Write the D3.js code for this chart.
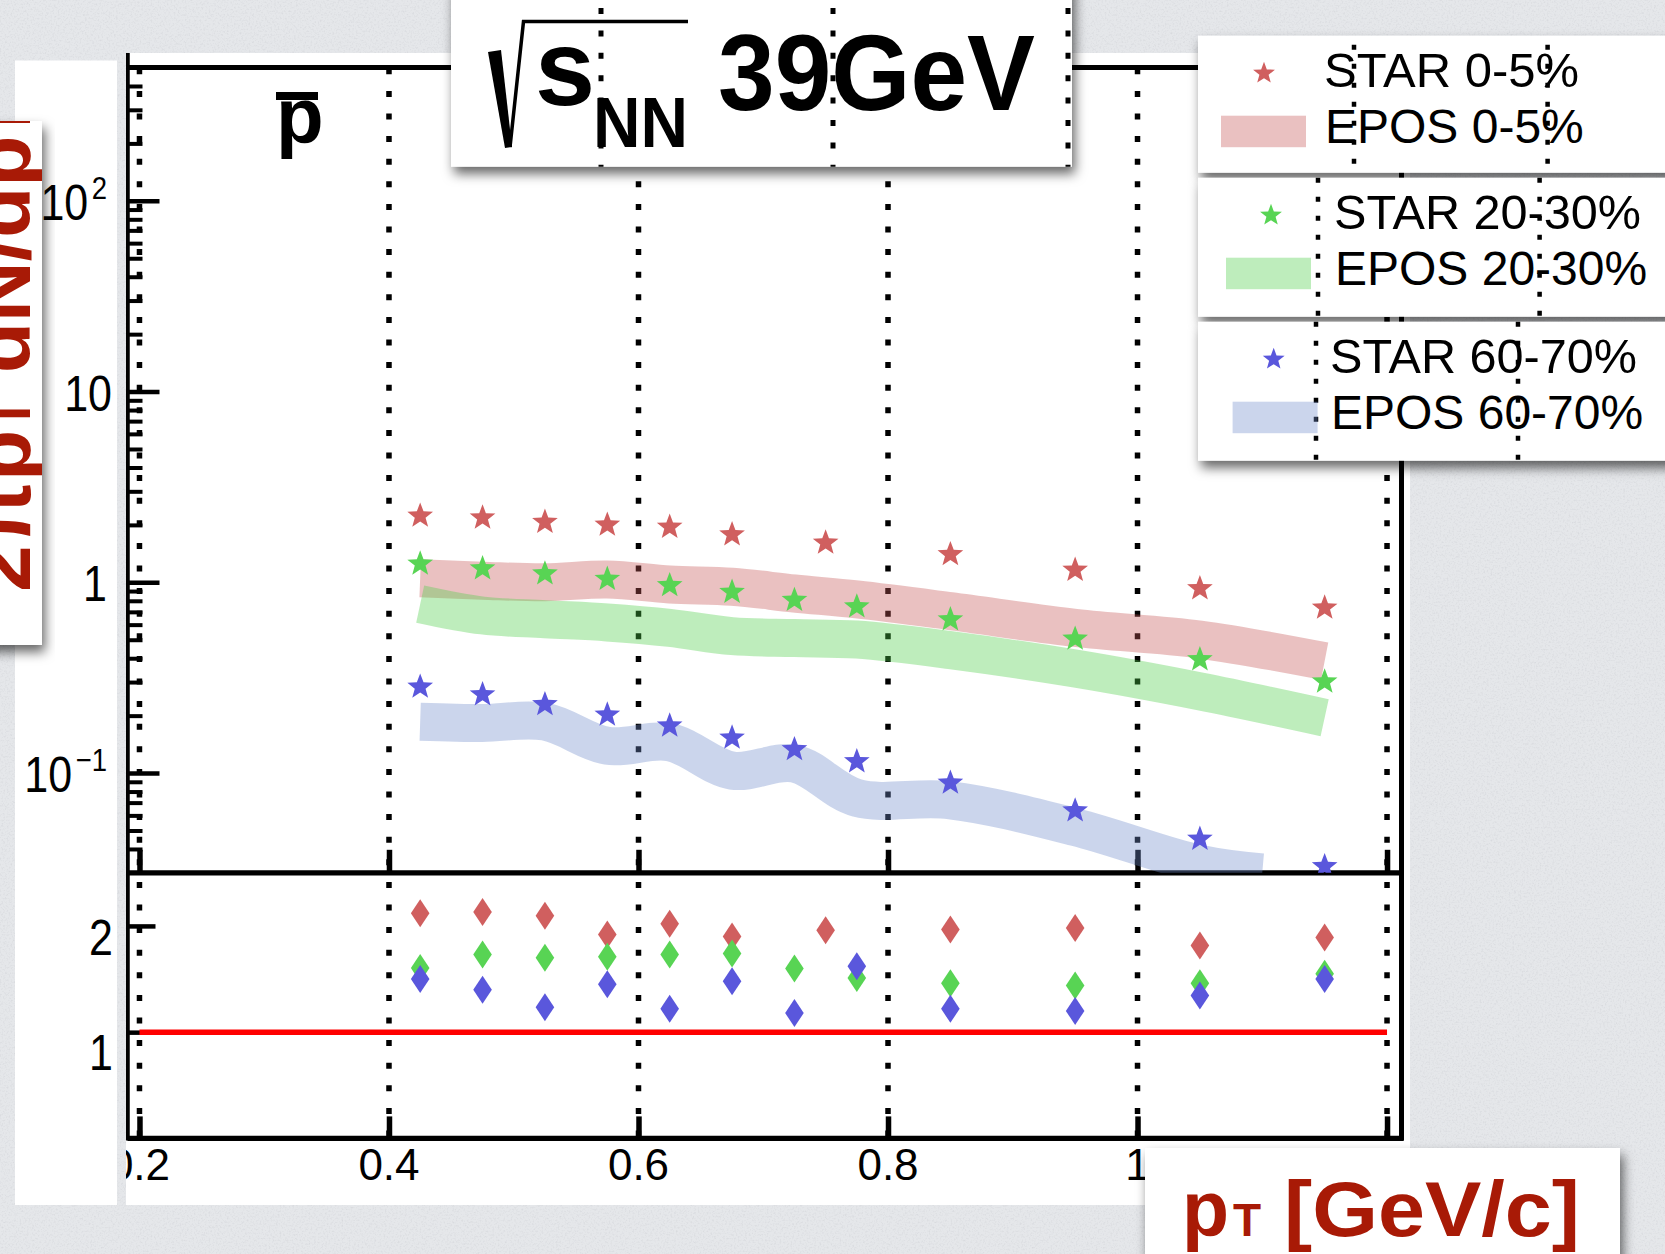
<!DOCTYPE html>
<html>
<head>
<meta charset="utf-8">
<script src="https://cdn.jsdelivr.net/npm/d3@7"></script>
<style>
  html, body { margin: 0; padding: 0; background: #e5e7ea; overflow: hidden; }
  svg { display: block; }
  text { font-family: "Liberation Sans", Arial, Helvetica, sans-serif; }
</style>
</head>
<body>
<svg id="chart" width="1665" height="1254"></svg>
<script>
// ---------------- data ----------------
// pT bin centres (GeV/c)
const ptBins      = [0.425, 0.475, 0.525, 0.575, 0.625, 0.675, 0.725, 0.775, 0.85, 0.95, 1.05, 1.15];
const ptBinsCent  = [0.425, 0.475, 0.525, 0.575, 0.625, 0.675, 0.75, 0.85, 0.95, 1.05, 1.15];
const ptEposPeriph = [0.425, 0.475, 0.525, 0.575, 0.625, 0.675, 0.725, 0.775, 0.85, 0.95, 1.05, 1.10];

// STAR anti-proton spectra, sqrt(sNN) = 39 GeV
const starCent   = [2.23, 2.18, 2.07, 2.00, 1.95, 1.78, 1.61, 1.40, 1.16, 0.928, 0.735];
const starMid    = [1.25, 1.18, 1.11, 1.04, 0.963, 0.889, 0.806, 0.745, 0.638, 0.505, 0.394, 0.301];
const starPeriph = [0.283, 0.258, 0.229, 0.202, 0.177, 0.153, 0.133, 0.115, 0.0888, 0.0635, 0.0451, 0.0324];

// EPOS model curves
const eposCent   = [1.05, 1.02, 1.00, 1.035, 0.975, 0.948, 0.874, 0.813, 0.706, 0.577, 0.501, 0.386];
const eposMid    = [0.769, 0.670, 0.641, 0.616, 0.577, 0.522, 0.510, 0.501, 0.441, 0.353, 0.268, 0.195];
const eposPeriph = [0.186, 0.183, 0.186, 0.139, 0.145, 0.103, 0.112, 0.0741, 0.0720, 0.0521, 0.0334, 0.0301];

// data / model ratios
const ratioCent   = [2.12, 2.13, 2.095, 1.92, 2.02, 1.90, 1.96, 1.966, 1.98, 1.815, 1.89];
const ratioMid    = [1.605, 1.73, 1.70, 1.71, 1.73, 1.74, 1.60, 1.51, 1.46, 1.44, 1.46, 1.55];
const ratioPeriph = [1.50, 1.40, 1.235, 1.45, 1.22, 1.48, 1.18, 1.62, 1.22, 1.20, 1.345, 1.50];

// axis ticks and labels
const xTickVals  = [0.2, 0.4, 0.6, 0.8, 1.0, 1.2];
const xTickText  = ["0.2", "0.4", "0.6", "0.8", "1", "1.2"];
const yUpMajor   = [100, 10, 1, 0.1];
const yUpBase    = ["10", "10", "1", "10"];
const yUpSup     = ["2", "", "", "\u22121"];
const yLowMajor  = [2, 1];
const yLowText   = ["2", "1"];
const legendStar = ["STAR 0-5%", "STAR 20-30%", "STAR 60-70%"];
const legendEpos = ["EPOS 0-5%", "EPOS 20-30%", "EPOS 60-70%"];

// ---------------- styling ----------------
const markerColor = ["#d05f5f", "#58d454", "#5a57dc"];
const bandColor   = ["rgba(198,86,86,0.37)", "rgba(78,206,72,0.37)", "rgba(113,142,204,0.37)"];
const titleRed    = "#a81a06";

const svg = d3.select("#chart");
const defs = svg.append("defs");

// paper grain for the backdrop
const grain = defs.append("filter").attr("id", "grain")
  .attr("x", 0).attr("y", 0).attr("width", "100%").attr("height", "100%");
grain.append("feTurbulence").attr("type", "fractalNoise")
  .attr("baseFrequency", 0.55).attr("numOctaves", 3).attr("seed", 11);
grain.append("feColorMatrix").attr("type", "matrix")
  .attr("values", "0 0 0 0 0.45  0 0 0 0 0.46  0 0 0 0 0.5  0 0 0 1.6 -0.75");

const shadow = defs.append("filter").attr("id", "shadow")
  .attr("x", "-20%").attr("y", "-20%").attr("width", "140%").attr("height", "150%");
shadow.append("feDropShadow").attr("dx", 3).attr("dy", 7).attr("stdDeviation", 6)
  .attr("flood-color", "#000").attr("flood-opacity", 0.6);

// ---------------- scales ----------------
const xs   = d3.scaleLinear().domain([0.19, 1.212]).range([127, 1402]);
const yUp  = d3.scaleLog().domain([0.03, 500]).range([872.8, 67.5]);
const yLow = d3.scaleLinear().domain([0, 2.5]).range([1138.4, 872.8]);
// the tick-label strip sits slightly stretched against the lower pad
const yLowLabel = d3.scaleLinear().domain([1, 2]).range([1069.5, 954.5]);

const padL = 127.5, padR = 1401.5, padTop = 67.5, padMid = 872.8, padBot = 1138.4;

// ---------------- backdrop & panels ----------------
svg.append("rect").attr("width", 1665).attr("height", 1254).attr("fill", "#e5e7ea");
svg.append("rect").attr("width", 1665).attr("height", 1254).attr("filter", "url(#grain)").attr("opacity", 0.35);

svg.append("rect").attr("x", 15).attr("y", 60.5).attr("width", 102).attr("height", 1144.5).attr("fill", "#fff");
svg.append("rect").attr("x", 126).attr("y", 53).attr("width", 1284).attr("height", 1152).attr("fill", "#fff");

defs.append("clipPath").attr("id", "panelClip").append("rect")
  .attr("x", 126).attr("y", 53).attr("width", 1284).attr("height", 1152);
defs.append("clipPath").attr("id", "upClip").append("rect")
  .attr("x", padL).attr("y", padTop).attr("width", padR - padL).attr("height", padMid - padTop);
defs.append("clipPath").attr("id", "lowClip").append("rect")
  .attr("x", padL).attr("y", padMid).attr("width", padR - padL).attr("height", padBot - padMid);

const plot = svg.append("g").attr("clip-path", "url(#panelClip)");

// dotted verticals at the major pT values
plot.append("g").selectAll("line").data(xTickVals).join("line")
  .attr("x1", d => xs(d)).attr("x2", d => xs(d))
  .attr("y1", 53).attr("y2", padBot)
  .attr("stroke", "#000").attr("stroke-width", 5.5)
  .attr("stroke-dasharray", "6,16.6").attr("stroke-dashoffset", 7.3);

// frame
const frame = plot.append("g").attr("stroke", "#000").attr("fill", "none");
frame.append("line").attr("x1", padL).attr("x2", padL).attr("y1", 53).attr("y2", padBot + 2).attr("stroke-width", 4.5);
frame.append("line").attr("x1", padR).attr("x2", padR).attr("y1", padTop).attr("y2", padBot + 2).attr("stroke-width", 5);
frame.append("line").attr("x1", padL).attr("x2", padR + 2).attr("y1", padTop).attr("y2", padTop).attr("stroke-width", 5);
frame.append("line").attr("x1", padL).attr("x2", padR + 2).attr("y1", padMid).attr("y2", padMid).attr("stroke-width", 5.3);
frame.append("line").attr("x1", padL).attr("x2", padR + 2).attr("y1", padBot).attr("y2", padBot).attr("stroke-width", 5.3);

// axis ticks (drawn with d3 axes, inward)
function styleAxis(g, w) {
  g.select(".domain").remove();
  g.selectAll(".tick line").attr("stroke", "#000").attr("stroke-width", w);
  g.selectAll(".tick text").remove();
}
plot.append("g").attr("transform", `translate(0,${padMid})`)
  .call(d3.axisTop(xs).tickValues(xTickVals).tickSize(23).tickFormat(""))
  .call(g => styleAxis(g, 5.5));
plot.append("g").attr("transform", `translate(0,${padBot})`)
  .call(d3.axisTop(xs).tickValues(xTickVals).tickSize(22).tickFormat(""))
  .call(g => styleAxis(g, 5.5));

const minorUp = [];
for (let e = -2; e <= 2; e++) for (let m = 2; m <= 9; m++) {
  const v = m * Math.pow(10, e);
  if (v > 0.03 && v < 500) minorUp.push(v);
}
plot.append("g").attr("transform", `translate(${padL},0)`)
  .call(d3.axisRight(yUp).tickValues(yUpMajor).tickSize(32).tickFormat(""))
  .call(g => styleAxis(g, 4.5));
plot.append("g").attr("transform", `translate(${padL},0)`)
  .call(d3.axisRight(yUp).tickValues(minorUp).tickSize(15).tickFormat(""))
  .call(g => styleAxis(g, 4));
plot.append("g").attr("transform", `translate(${padL},0)`)
  .call(d3.axisRight(yLow).tickValues(yLowMajor).tickSize(28).tickFormat(""))
  .call(g => styleAxis(g, 4.5));

// x tick labels
plot.append("g").selectAll("text").data(xTickVals).join("text")
  .attr("x", d => xs(d)).attr("y", 1180)
  .attr("text-anchor", "middle").attr("font-size", 44).attr("fill", "#000")
  .text((d, i) => xTickText[i]);

// species label: anti-proton
plot.append("text").attr("x", 276).attr("y", 143)
  .attr("font-size", 78).attr("font-weight", "bold").text("p");
plot.append("rect").attr("x", 276).attr("y", 92).attr("width", 42).attr("height", 8).attr("fill", "#000");

// ---------------- upper pad: spectra ----------------
const upper = plot.append("g").attr("clip-path", "url(#upClip)");
const band = d3.line().x(d => xs(d[0])).y(d => yUp(d[1])).curve(d3.curveCatmullRom.alpha(0.5));
const bands = [
  d3.zip(ptBins, eposCent),
  d3.zip(ptBins, eposMid),
  d3.zip(ptEposPeriph, eposPeriph)
];
upper.append("g").selectAll("path").data(bands).join("path")
  .attr("d", band).attr("fill", "none")
  .attr("stroke", (d, i) => bandColor[i]).attr("stroke-width", 38)
  .attr("stroke-linecap", "butt").attr("stroke-linejoin", "round");

function starPath(R, k) {
  const p = [];
  for (let i = 0; i < 10; i++) {
    const a = -Math.PI / 2 + i * Math.PI / 5;
    const r = i % 2 ? R * k : R;
    p.push([r * Math.cos(a), r * Math.sin(a)]);
  }
  return "M" + p.map(q => q[0].toFixed(2) + "," + q[1].toFixed(2)).join("L") + "Z";
}
const star = starPath(13.5, 0.42);
const spectra = [
  d3.zip(ptBinsCent, starCent),
  d3.zip(ptBins, starMid),
  d3.zip(ptBins, starPeriph)
];
spectra.forEach((s, i) => {
  upper.append("g").selectAll("path").data(s).join("path")
    .attr("d", star).attr("fill", markerColor[i])
    .attr("transform", d => `translate(${xs(d[0])},${yUp(d[1])})`);
});

// ---------------- lower pad: ratios ----------------
const lower = plot.append("g").attr("clip-path", "url(#lowClip)");
lower.append("line")
  .attr("x1", xs(0.2)).attr("x2", xs(1.2))
  .attr("y1", yLow(1)).attr("y2", yLow(1))
  .attr("stroke", "#ff0000").attr("stroke-width", 5.5);
const diamond = "M0,-14L9.3,0L0,14L-9.3,0Z";
const ratios = [
  d3.zip(ptBinsCent, ratioCent),
  d3.zip(ptBins, ratioMid),
  d3.zip(ptBins, ratioPeriph)
];
ratios.forEach((s, i) => {
  lower.append("g").selectAll("path").data(s).join("path")
    .attr("d", diamond).attr("fill", markerColor[i])
    .attr("transform", d => `translate(${xs(d[0])},${yLow(d[1])})`);
});

// ---------------- y tick labels on the left strip ----------------
const yl = svg.append("g").attr("fill", "#000");
yUpMajor.forEach((v, i) => {
  const right = yUpSup[i] || yUpBase[i] === "1" ? 107 : 112;
  const g = yl.append("g").attr("transform", `translate(${right},${yUp(v) + 19}) scale(0.86,1)`);
  const t = g.append("text").attr("text-anchor", "end").attr("font-size", 50);
  t.append("tspan").text(yUpBase[i]);
  if (yUpSup[i]) t.append("tspan").attr("font-size", 32).attr("dy", -21).attr("dx", 4).text(yUpSup[i]);
});
yLowMajor.forEach((v, i) => {
  yl.append("g").attr("transform", `translate(113,${yLowLabel(v)}) scale(0.86,1)`)
    .append("text").attr("text-anchor", "end").attr("font-size", 50).text(yLowText[i]);
});

// ---------------- y-axis title card ----------------
defs.append("clipPath").attr("id", "ycardClip").append("rect")
  .attr("x", 0).attr("y", 121).attr("width", 42).attr("height", 524);
svg.append("rect").attr("x", -20).attr("y", 121).attr("width", 62).attr("height", 524)
  .attr("fill", "#fff").attr("filter", "url(#shadow)");
const ytitle = svg.append("g").attr("clip-path", "url(#ycardClip)")
  .append("text").attr("transform", "translate(30,592) rotate(-90)")
  .attr("font-size", 84).attr("font-weight", "bold").attr("fill", titleRed);
ytitle.append("tspan").text("2\u03c0p");
ytitle.append("tspan").attr("font-size", 54).text("T");
ytitle.append("tspan").text(" dN/dp");
ytitle.append("tspan").attr("font-size", 54).text("T");

// ---------------- energy title card ----------------
const tbox = svg.append("g");
tbox.append("rect").attr("x", 451).attr("y", -20).attr("width", 621).attr("height", 186.7)
  .attr("fill", "#fff").attr("filter", "url(#shadow)");
defs.append("clipPath").attr("id", "tboxClip").append("rect")
  .attr("x", 451).attr("y", 0).attr("width", 621).attr("height", 166.7);
tbox.append("g").attr("clip-path", "url(#tboxClip)").selectAll("line").data([601, 833, 1068]).join("line")
  .attr("x1", d => d).attr("x2", d => d).attr("y1", 8).attr("y2", 167)
  .attr("stroke", "#000").attr("stroke-width", 5).attr("stroke-dasharray", "6,16.4");
tbox.append("path").attr("d", "M488,52L501,50L512,147L505,148Z").attr("fill", "#000");
tbox.append("path").attr("d", "M510,147L523.5,21.5L688,21.5").attr("fill", "none")
  .attr("stroke", "#000").attr("stroke-width", 3.5);
tbox.append("text").attr("x", 535).attr("y", 105).attr("font-size", 108).attr("font-weight", "bold").text("s");
tbox.append("text").attr("x", 593).attr("y", 147).attr("font-size", 70).attr("font-weight", "bold")
  .attr("textLength", 95).attr("lengthAdjust", "spacingAndGlyphs").text("NN");
tbox.append("text").attr("x", 718).attr("y", 110).attr("font-size", 107).attr("font-weight", "bold")
  .attr("textLength", 317).attr("lengthAdjust", "spacingAndGlyphs").text("39GeV");

// ---------------- legend cards ----------------
const cardTop = [35.7, 177.7, 321.7];
const cardH   = [137, 139, 139];
const cardGuides = [[1354, 1547.6], [1318, 1539.6], [1316, 1518]];
const starX   = [1264, 1271, 1273.7];
const textX   = [1324, 1334, 1330];
const swatchX = [1221, 1226, 1232.6];
const legStar = starPath(11.5, 0.42);
for (let i = 0; i < 3; i++) {
  const g = svg.append("g");
  const top = cardTop[i];
  g.append("rect").attr("x", 1198).attr("y", top).attr("width", 520).attr("height", cardH[i])
    .attr("fill", "#fff").attr("filter", "url(#shadow)");
  g.selectAll("line").data(cardGuides[i]).join("line")
    .attr("x1", d => d).attr("x2", d => d)
    .attr("y1", top + (i === 0 ? 9 : 0)).attr("y2", top + cardH[i])
    .attr("stroke", "#000").attr("stroke-width", 4.5).attr("stroke-dasharray", "5,14");
  g.append("path").attr("d", legStar).attr("fill", markerColor[i])
    .attr("transform", `translate(${starX[i]},${top + 37.6})`);
  g.append("text").attr("x", textX[i]).attr("y", top + 51).attr("font-size", 48)
    .attr("textLength", [255, 307, 307][i]).attr("lengthAdjust", "spacingAndGlyphs").text(legendStar[i]);
  g.append("rect").attr("x", swatchX[i]).attr("y", top + 80).attr("width", 85).attr("height", 31.5)
    .attr("fill", bandColor[i]);
  g.append("text").attr("x", textX[i] + 1).attr("y", top + 107).attr("font-size", 48).text(legendEpos[i]);
}

// ---------------- x-axis title card ----------------
const xcard = svg.append("g");
xcard.append("rect").attr("x", 1145).attr("y", 1148).attr("width", 475).attr("height", 130)
  .attr("fill", "#fff").attr("filter", "url(#shadow)");
const xt = xcard.append("g").attr("fill", titleRed).attr("font-weight", "bold");
xt.append("text").attr("x", 1182).attr("y", 1236).attr("font-size", 77).text("p");
xt.append("text").attr("x", 1233).attr("y", 1236).attr("font-size", 46).text("T");
xt.append("text").attr("x", 1284).attr("y", 1236).attr("font-size", 77)
  .attr("textLength", 296).attr("lengthAdjust", "spacingAndGlyphs").text("[GeV/c]");
</script>
</body>
</html>
